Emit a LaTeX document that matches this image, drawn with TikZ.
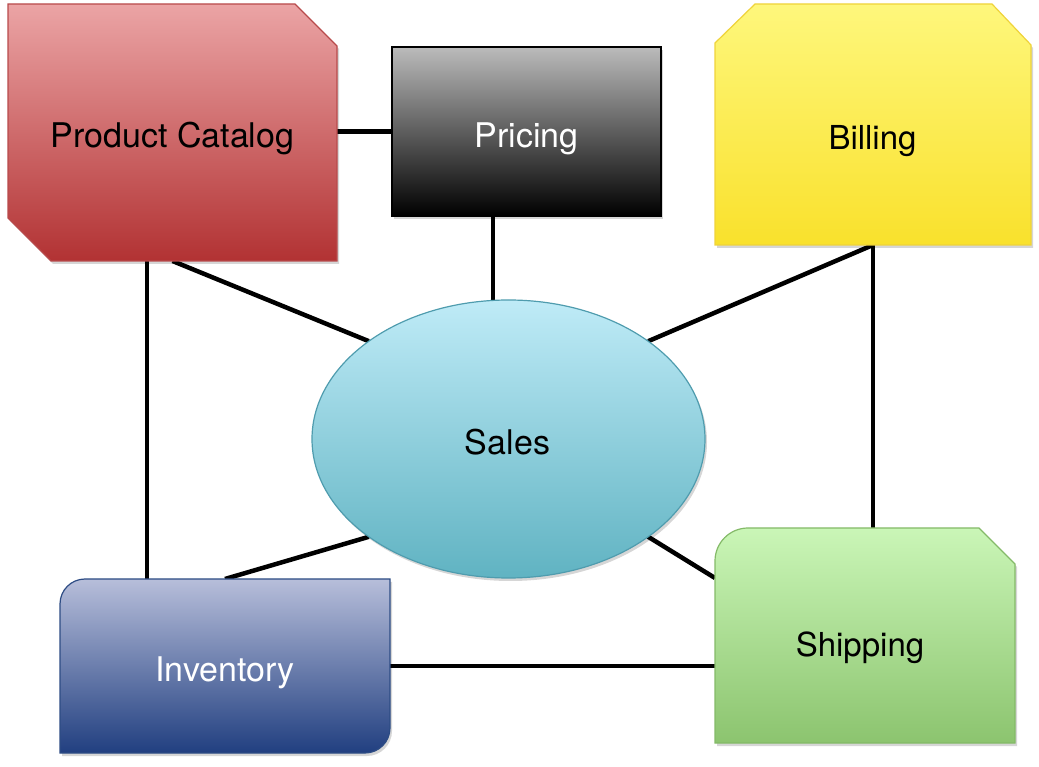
\documentclass[tikz,border=0pt]{standalone}
\usepackage{fontspec}
\setmainfont{TeX Gyre Heros}
\usetikzlibrary{shapes.geometric,calc}
\pgfdeclarelayer{background}
\pgfsetlayers{background,main}
\definecolor{pcTop}{HTML}{EBA4A5}\definecolor{pcBot}{HTML}{B23233}\definecolor{pcLine}{HTML}{B84A4B}
\definecolor{prTop}{HTML}{BBBBBB}\definecolor{prBot}{HTML}{000000}
\definecolor{biTop}{HTML}{FEF77C}\definecolor{biBot}{HTML}{F9E12C}\definecolor{biLine}{HTML}{EFD33A}
\definecolor{saTop}{HTML}{BFEBF7}\definecolor{saBot}{HTML}{60B3C2}\definecolor{saLine}{HTML}{4F9CAE}
\definecolor{inTop}{HTML}{B7BEDA}\definecolor{inBot}{HTML}{213F80}\definecolor{inLine}{HTML}{2D4C84}
\definecolor{shTop}{HTML}{CAF6B7}\definecolor{shBot}{HTML}{8CC46F}\definecolor{shLine}{HTML}{84BA68}
\begin{document}
\begin{tikzpicture}[x=1pt,y=1pt,
  frame/.style={rectangle,inner sep=0pt,outer sep=0pt},
  lbl/.style={inner sep=0pt,outer sep=0pt,font=\fontsize{34}{40}\selectfont},
  lblb/.style={inner sep=0pt,outer sep=0pt,font=\fontsize{33}{40}\selectfont},
  conn/.style={line width=4.5pt,black},
  shadowfill/.style={fill=black,opacity=0.16,transform canvas={shift={(2pt,-3pt)}}},
  border/.style={line width=1.2pt},
]
\useasboundingbox (0,0) rectangle (1039,766);
% frames
\node[frame,minimum width=329pt,minimum height=257pt] (pc) at (172.5,633.5) {};
\node[frame,minimum width=269pt,minimum height=169pt] (pr) at (526.5,634.5) {};
\node[frame,minimum width=316pt,minimum height=241pt] (bi) at (873,641.5) {};
\node[ellipse,inner sep=0pt,outer sep=0pt,minimum width=393pt,minimum height=278pt] (sa) at (508.5,327) {};
\node[frame,minimum width=330pt,minimum height=174pt] (in) at (225,100) {};
\node[frame,minimum width=300pt,minimum height=215pt] (sh) at (865,130.5) {};
% labels
\node[lbl] (pcl) at (172.5,627.5) {Product Catalog};
\node[lbl,white] (prl) at (526.5,627.5) {Pricing};
\node[lblb] (bil) at (872.5,625) {Billing};
\node[lbl] (sal) at (507.5,323.5) {Sales};
\node[lbl,white] (inl) at (225,93.5) {Inventory};
\node[lblb] (shl) at (860,118.5) {Shipping};
\coordinate (pcA) at ($(pc.south)+(-25.5,0)$);
\coordinate (prA) at ($(pr.south)+(-33.5,0)$);
\coordinate (shA) at ($(sh.north west)+(0,-50)$);
\newcommand\pcshape{(pc.north west) -- ($(pc.north east)+(-42,0)$) -- ($(pc.north east)+(0,-42)$) -- (pc.south east) -- ($(pc.south west)+(43,0)$) -- ($(pc.south west)+(0,43)$) -- cycle}
\newcommand\prshape{(pr.north west) rectangle (pr.south east)}
\newcommand\bishape{($(bi.north west)+(40,0)$) -- ($(bi.north east)+(-39,0)$) -- ($(bi.north east)+(0,-41)$) -- (bi.south east) -- (bi.south west) -- ($(bi.north west)+(0,-39)$) -- cycle}
\newcommand\inshape{(in.south west) -- ($(in.north west)+(0,-25)$) arc[start angle=180,end angle=90,radius=25] -- (in.north east) -- ($(in.south east)+(0,25)$) arc[start angle=0,end angle=-90,radius=25] -- cycle}
\newcommand\shshape{(sh.south west) -- ($(sh.north west)+(0,-33)$) arc[start angle=180,end angle=90,radius=33] -- ($(sh.north east)+(-36,0)$) -- ($(sh.north east)+(0,-36)$) -- (sh.south east) -- cycle}
\begin{pgfonlayer}{background}
  % connectors
  \draw[conn] (pr.west) -- (pr.west -| pc.east);
  \draw[conn] (prA) -- (prA |- sa.north);
  \draw[conn] (pc.south) -- (sa.145);
  \draw[conn] (pcA) -- (pcA |- in.north);
  \draw[conn] (sa.215) -- (in.north);
  \draw[conn] (bi.south) -- (sa.35);
  \draw[conn] (bi.south) -- (bi.south |- sh.north);
  \draw[conn] (sa.325) -- (shA);
  \draw[conn] (in.east) -- (in.east -| sh.west);
  % shapes
  \fill[shadowfill] \pcshape;
  \shade[top color=pcTop,bottom color=pcBot,draw=pcLine,border] \pcshape;
  \fill[shadowfill] \prshape;
  \shade[top color=prTop,bottom color=prBot,draw=black,border] \prshape;
  \fill[shadowfill] \bishape;
  \shade[top color=biTop,bottom color=biBot,draw=biLine,border] \bishape;
  \fill[shadowfill] (sa.center) ellipse[x radius=196.5,y radius=139];
  \shade[top color=saTop,bottom color=saBot,draw=saLine,border] (sa.center) ellipse[x radius=196.5,y radius=139];
  \fill[shadowfill] \inshape;
  \shade[top color=inTop,bottom color=inBot,draw=inLine,border] \inshape;
  \fill[shadowfill] \shshape;
  \shade[top color=shTop,bottom color=shBot,draw=shLine,border] \shshape;
\end{pgfonlayer}
\end{tikzpicture}
\end{document}
